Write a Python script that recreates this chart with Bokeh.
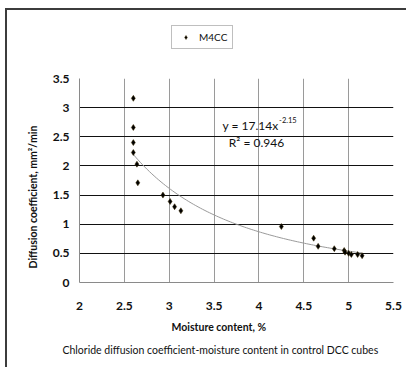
import numpy as np
from bokeh.plotting import figure
from bokeh.layouts import column
from bokeh.models import (ColumnDataSource, FixedTicker, Label, Legend, LegendItem, Title)
from bokeh.embed import file_html
from bokeh.resources import INLINE

# ---- data ----
moisture = [2.60, 2.60, 2.60, 2.60, 2.64, 2.65, 2.93, 3.01, 3.06, 3.13,
            4.25, 4.61, 4.66, 4.84, 4.95, 4.96, 5.00, 5.03, 5.10, 5.15]
diffusion = [3.16, 2.66, 2.40, 2.23, 2.03, 1.71, 1.50, 1.39, 1.30, 1.23,
             0.96, 0.76, 0.62, 0.58, 0.55, 0.52, 0.50, 0.48, 0.48, 0.46]
series_name = "M4CC"
fit_coef = 17.14
fit_exp = -2.15
fit_r2 = 0.946
x_ticks = [2, 2.5, 3, 3.5, 4, 4.5, 5, 5.5]
x_tick_labels = ["2", "2.5", "3", "3.5", "4", "4.5", "5", "5.5"]
y_ticks = [0, 0.5, 1, 1.5, 2, 2.5, 3, 3.5]
y_tick_labels = ["0", "0.5", "1", "1.5", "2", "2.5", "3", "3.5"]
x_title = "Moisture content, %"
y_title = "Diffusion coefficient, mm\u00b2/min"
caption = "Chloride diffusion coefficient-moisture content in control DCC cubes"

FONT = "Lato"
INK = "#111111"
MARKER = dict(marker="diamond", size=6, fill_color="#000000",
              line_color="#3a2a00", line_width=0.5)

# ---------- top strip holding the legend ----------
top = figure(width=406, height=71, x_axis_type=None, y_axis_type=None,
             output_backend="svg", toolbar_location=None,
             min_border=0, x_range=(0, 1), y_range=(0, 1))
top.background_fill_color = None
top.border_fill_color = None
top.outline_line_color = None
top.grid.visible = False
# legend-only renderer: its one point lies outside this strip's ranges
r_leg = top.scatter(x=moisture[:1], y=diffusion[:1], **MARKER)
legend = Legend(items=[LegendItem(label=series_name, renderers=[r_leg])],
                location=(92, 22), orientation="horizontal",
                border_line_color="#808080", border_line_width=1,
                label_text_font=FONT, label_text_font_size="10px",
                label_text_color=INK, padding=5, margin=0, spacing=0,
                glyph_width=17, glyph_height=10, label_standoff=5,
                label_height=10, background_fill_color="white")
top.add_layout(legend, "center")

# ---------- main chart ----------
p = figure(width=406, height=296, x_range=(2, 5.5), y_range=(0, 3.5),
           output_backend="svg", toolbar_location=None,
           min_border_left=79, min_border_right=13,
           min_border_top=7, min_border_bottom=85)
p.background_fill_color = "white"
p.border_fill_color = None
p.outline_line_color = None

p.xaxis.ticker = FixedTicker(ticks=x_ticks)
p.yaxis.ticker = FixedTicker(ticks=y_ticks)
p.xaxis.major_label_overrides = {t: l for t, l in zip(x_ticks, x_tick_labels)}
p.yaxis.major_label_overrides = {t: l for t, l in zip(y_ticks, y_tick_labels)}
for ax in (p.xaxis, p.yaxis):
    ax.major_tick_in = 0
    ax.major_tick_out = 0
    ax.minor_tick_in = 0
    ax.minor_tick_out = 0
    ax.axis_line_color = "#8a8a8a"
    ax.major_label_text_font = FONT
    ax.major_label_text_font_style = "bold"
    ax.major_label_text_font_size = "12px"
    ax.major_label_text_color = INK
p.xaxis.major_label_standoff = 19
p.yaxis.major_label_standoff = 10

p.xgrid.ticker = FixedTicker(ticks=x_ticks)
p.ygrid.ticker = FixedTicker(ticks=y_ticks)
p.xgrid.grid_line_color = "#9a9a9a"
p.ygrid.grid_line_color = INK

# trend line from the fitted equation shown on the chart
xf = np.linspace(min(moisture), max(moisture), 100)
yf = fit_coef * xf ** fit_exp
p.line(xf, yf, line_color="#9a9a9a", line_width=1)

src = ColumnDataSource(dict(x=moisture, y=diffusion))
p.scatter("x", "y", source=src, **MARKER)

# equation text
p.add_layout(Label(x=4.218, y=2.69, text="y = 17.14x", text_font=FONT,
                   text_font_size="12px", text_color=INK, text_align="right",
                   text_baseline="middle"))
p.add_layout(Label(x=4.225, y=2.78, text="-2.15", text_font=FONT,
                   text_font_size="7.5px", text_color=INK,
                   text_baseline="middle"))
p.add_layout(Label(x=3.973, y=2.40, text="R\u00b2 = " + str(fit_r2), text_font=FONT,
                   text_font_size="12px", text_color=INK, text_align="center",
                   text_baseline="middle"))

# titles outside the plot area
p.add_layout(Title(text=x_title, align="left", offset=92, standoff=12,
                   text_font=FONT, text_font_size="10.5px", text_font_style="bold",
                   text_color=INK), "below")
p.add_layout(Title(text=caption, align="left", offset=-17, standoff=6,
                   text_font=FONT, text_font_size="10.5px", text_font_style="normal",
                   text_color=INK), "below")
p.add_layout(Title(text=y_title, align="left", offset=14, standoff=22,
                   text_font=FONT, text_font_size="10.5px", text_font_style="bold",
                   text_color=INK), "left")

layout = column(top, p, spacing=0)
# outer chart border (top and left edges)
layout.styles = {"background": "linear-gradient(#3c3c3c,#3c3c3c) 5px 8px / 2px 100% no-repeat, "
                               "linear-gradient(#3c3c3c,#3c3c3c) 5px 8px / 100% 2px no-repeat, white"}

open("out.html", "w").write(file_html(layout, INLINE))
